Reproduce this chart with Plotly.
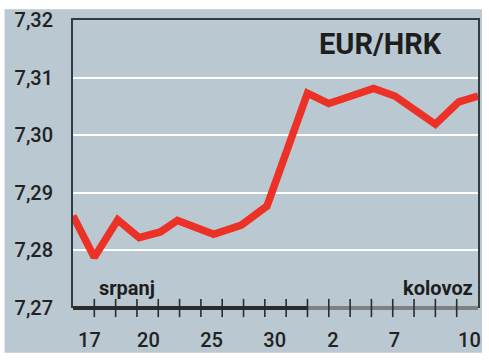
import plotly.graph_objects as go

# ---- data ----
day_pos = [-1, 0, 1.1, 2.1, 3.1, 3.9, 5.6, 6.9, 8.1, 10, 11, 13.1, 14.1, 16, 17.1, 18]
eur_hrk = [7.2860, 7.2788, 7.2853, 7.2822, 7.2832, 7.2852, 7.2828, 7.2844, 7.2877,
           7.3073, 7.3055, 7.3081, 7.3068, 7.3019, 7.3058, 7.3068]

tick_pos = list(range(0, 18))                      # small tick marks (trading days)
label_pos = [-0.23, 2.54, 5.5, 8.46, 11.2, 14.08, 17.6]
label_text = ["17", "20", "25", "30", "2", "7", "10"]

month_names = ["srpanj", "kolovoz"]
month_start = [-1, 10]
month_end = [10, 18]
month_colors = ["#2b2b2b", "#7d8184"]

y_ticks = [7.27, 7.28, 7.29, 7.30, 7.31, 7.32]

BG = "#bac9d1"
DARK = "#333a40"
RED = "#ec3227"
FONT = "Roboto"

fig = go.Figure()

fig.add_trace(go.Scatter(
    x=day_pos, y=eur_hrk, mode="lines",
    line=dict(color=RED, width=7.5, shape="linear"),
    hoverinfo="skip", showlegend=False,
))

# tick marks crossing the bottom bar
fig.add_trace(go.Scatter(
    x=tick_pos, y=[y_ticks[0]] * len(tick_pos), mode="markers",
    marker=dict(symbol="line-ns", size=13, line=dict(color="#2b2b2b", width=1.6)),
    cliponaxis=False, hoverinfo="skip", showlegend=False,
))

shapes = [
    dict(type="rect", xref="paper", yref="paper",
         x0=-0.169, x1=1.0098, y0=-0.1554, y1=1.0372,
         fillcolor=BG, line=dict(width=0), layer="below"),
]
for s, e, c in zip(month_start, month_end, month_colors):
    shapes.append(dict(type="rect", xref="x", yref="paper", x0=s, x1=e,
                       y0=-0.0068, y1=0.0068, fillcolor=c, line=dict(width=0),
                       layer="below"))

annotations = [
    dict(text="<b>EUR/HRK</b>", xref="paper", yref="paper", x=0.76, y=0.9155,
         xanchor="center", yanchor="middle", showarrow=False,
         font=dict(family=FONT, size=29, color="#1e1e1e")),
    dict(text="<b>" + month_names[0] + "</b>", xref="x", yref="paper", x=0.12, y=0.071,
         xanchor="left", yanchor="middle", showarrow=False,
         font=dict(family=FONT, size=20, color="#1e1e1e")),
    dict(text="<b>" + month_names[1] + "</b>", xref="x", yref="paper", x=17.85, y=0.071,
         xanchor="right", yanchor="middle", showarrow=False,
         font=dict(family=FONT, size=20, color="#1e1e1e")),
]

fig.update_layout(
    width=489, height=360,
    margin=dict(l=73, r=8, t=14, b=50),
    paper_bgcolor="white", plot_bgcolor=BG,
    separators=", ",
    shapes=shapes, annotations=annotations,
    xaxis=dict(range=[-1, 18], tickmode="array", tickvals=label_pos, ticktext=label_text,
               ticks="", showgrid=False, zeroline=False, showline=False,
               ticklabelstandoff=18,
               tickfont=dict(family=FONT, size=20, color="#222222", weight=500)),
    xaxis2=dict(range=[-1, 18], overlaying="x", side="top", showline=True,
                linecolor=DARK, linewidth=1.6, showticklabels=False, ticks="",
                showgrid=False, zeroline=False),
    yaxis=dict(range=[7.27, 7.32], tickmode="array", tickvals=y_ticks, tickformat=".2f",
               showgrid=True, gridcolor="white", gridwidth=1.6, zeroline=False,
               showline=True, mirror=True, linecolor=DARK, linewidth=1.8,
               ticks="", ticklabelstandoff=14,
               tickfont=dict(family=FONT, size=20, color="#222222", weight=500)),
)
# invisible trace to activate the top frame axis
fig.add_trace(go.Scatter(x=[-1], y=[7.27], xaxis="x2", mode="markers",
                         marker=dict(opacity=0), hoverinfo="skip", showlegend=False))

fig.write_html("out.html", config={"displayModeBar": False},
               post_script="document.body.style.margin='0';document.body.style.padding='0';")
